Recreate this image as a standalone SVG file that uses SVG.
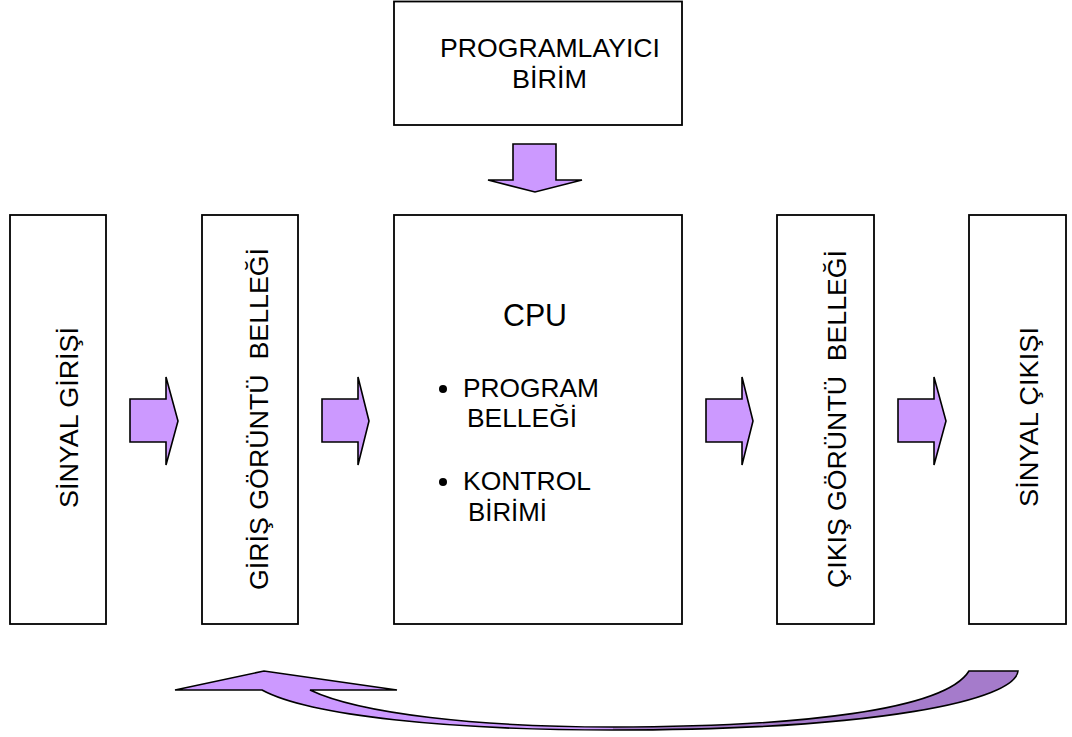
<svg xmlns="http://www.w3.org/2000/svg" width="1072" height="737" viewBox="0 0 1072 737">
<style>
.box{fill:#fff;stroke:#000;stroke-width:1.8}
.arr{fill:#CC99FF;stroke:#000;stroke-width:1.6;stroke-linejoin:miter}
.t{font-family:"Liberation Sans",Arial,sans-serif;fill:#000}
</style>
<defs>
<linearGradient id="cg" gradientUnits="userSpaceOnUse" x1="175" y1="0" x2="1018" y2="0">
<stop offset="0" stop-color="#CC99FF"/>
<stop offset="0.52" stop-color="#CC99FF"/>
<stop offset="0.52" stop-color="#A57BCB"/>
<stop offset="1" stop-color="#A57BCB"/>
</linearGradient>
</defs>
<rect width="1072" height="737" fill="#fff"/>

<g id="programlayici">
<rect class="box" x="394" y="1.5" width="288" height="123.5"/>
<text class="t" x="440" y="57" font-size="25.5" textLength="220" lengthAdjust="spacingAndGlyphs">PROGRAMLAYICI</text>
<text class="t" x="512" y="88" font-size="25.5" textLength="75" lengthAdjust="spacingAndGlyphs">BİRİM</text>
</g>

<g id="sinyal-girisi">
<rect class="box" x="10" y="215" width="96" height="409"/>
<text class="t" transform="translate(78,508) rotate(-90)" font-size="25.5" textLength="181" lengthAdjust="spacingAndGlyphs">SİNYAL GİRİŞİ</text>
</g>

<g id="giris-goruntu">
<rect class="box" x="202" y="215" width="96" height="409"/>
<text class="t" transform="translate(268,590) rotate(-90)" font-size="25.5" textLength="342" lengthAdjust="spacingAndGlyphs" xml:space="preserve">GİRİŞ GÖRÜNTÜ  BELLEĞİ</text>
</g>

<g id="cpu">
<rect class="box" x="394" y="215" width="288" height="409"/>
<text class="t" x="503" y="326" font-size="31" textLength="64" lengthAdjust="spacingAndGlyphs">CPU</text>
<circle cx="443" cy="389" r="4"/>
<text class="t" x="463" y="397" font-size="25.5" textLength="136" lengthAdjust="spacingAndGlyphs">PROGRAM</text>
<text class="t" x="467" y="427" font-size="25.5" textLength="110" lengthAdjust="spacingAndGlyphs">BELLEĞİ</text>
<circle cx="443" cy="482" r="4"/>
<text class="t" x="463" y="490" font-size="25.5" textLength="128" lengthAdjust="spacingAndGlyphs">KONTROL</text>
<text class="t" x="468" y="521" font-size="25.5" textLength="79" lengthAdjust="spacingAndGlyphs">BİRİMİ</text>
</g>

<g id="cikis-goruntu">
<rect class="box" x="777" y="215" width="97" height="409"/>
<text class="t" transform="translate(846,588) rotate(-90)" font-size="25.5" textLength="338" lengthAdjust="spacingAndGlyphs" xml:space="preserve">ÇIKIŞ GÖRÜNTÜ  BELLEĞİ</text>
</g>

<g id="sinyal-cikisi">
<rect class="box" x="969" y="215" width="97" height="409"/>
<text class="t" transform="translate(1038,507) rotate(-90)" font-size="25.5" textLength="180" lengthAdjust="spacingAndGlyphs">SİNYAL ÇIKIŞI</text>
</g>

<g id="connectors">
<polygon class="arr" points="513,144 556,144 556,180 582,180 535,192 488,180 513,180"/>
<polygon class="arr" points="130,399 166,399 166,377 178,421 166,465 166,442 130,442"/>
<polygon class="arr" points="322,399 358,399 358,377 369,421 358,465 358,442 322,442"/>
<polygon class="arr" points="706,399 742,399 742,377 753,421 742,465 742,442 706,442"/>
<polygon class="arr" points="898,399 934,399 934,377 946,421 934,465 934,442 898,442"/>
<path d="M175,690 L264,671 L397,690 L310,690 C360,714 480,727 612,727 C800,727 945,710 969,671 L1018,671 C1015,700 880,730 612,730 C450,730 310,716 262,690 Z" fill="url(#cg)" stroke="#000" stroke-width="1.6" stroke-linejoin="miter"/>
</g>
</svg>
